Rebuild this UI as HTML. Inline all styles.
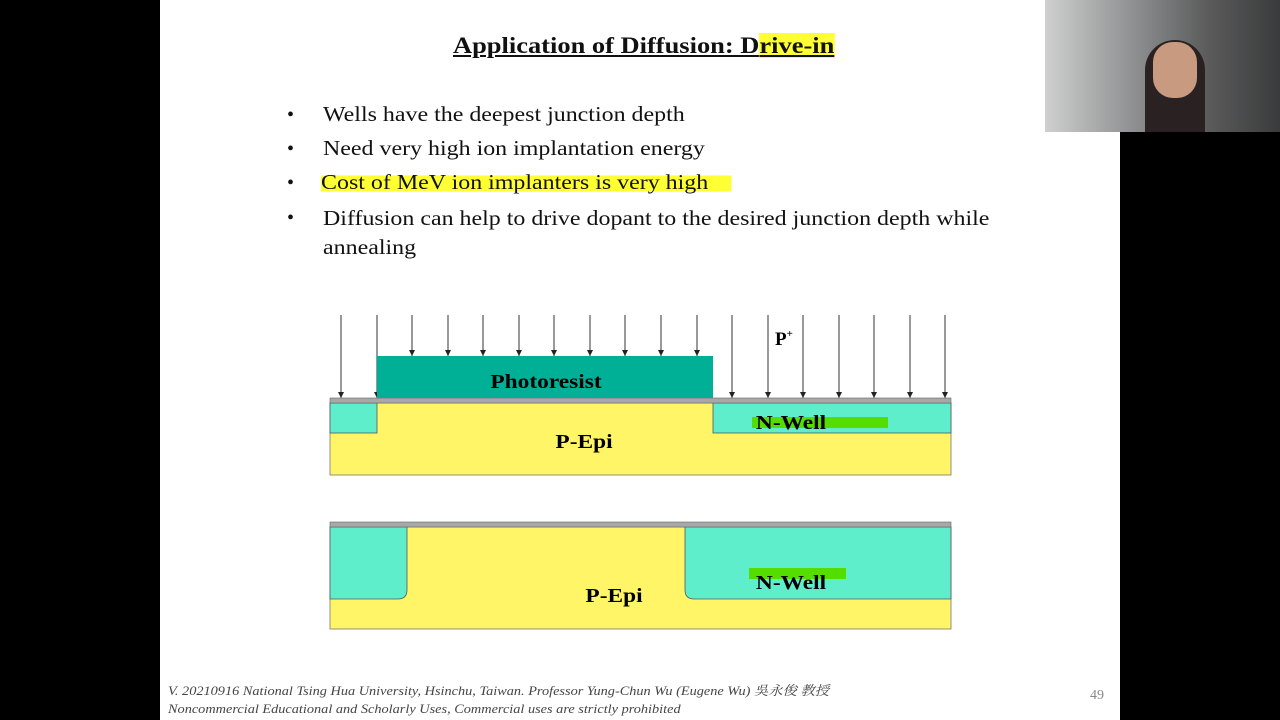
<!DOCTYPE html>
<html><head><meta charset="utf-8"><style>
body{margin:0;width:1280px;height:720px;background:#000;overflow:hidden;position:relative;font-family:"Liberation Serif","Noto Serif CJK SC",serif}
#slide{position:absolute;left:160px;top:0;width:960px;height:720px;background:#fff}
.t{position:absolute;white-space:nowrap;color:#111}
.b{font-size:21px;transform:scaleX(1.14);transform-origin:left}
</style></head><body>
<div id="slide"></div>
<div style="position:absolute;left:1045px;top:0;width:235px;height:132px;background:linear-gradient(90deg,#cfd0cf,#8a8c8d 40%,#5a5a5a 70%,#3a3b3c)">
 <div style="position:absolute;left:100px;top:40px;width:60px;height:92px;background:#2a2222;border-radius:30px 30px 0 0"></div>
 <div style="position:absolute;left:108px;top:42px;width:44px;height:56px;background:#c89a80;border-radius:20px"></div>
</div>
<div class="t" style="left:453px;top:33px;font-size:23px;font-weight:bold;text-decoration:underline;transform:scaleX(1.15);transform-origin:left">Application of Diffusion: D<span style="background:#ffff33">rive-in</span></div>
<div>
<div class="t" style="left:287px;top:104px;font-size:20px">•</div><div class="t b" style="left:323px;top:102px">Wells have the deepest junction depth</div>
<div class="t" style="left:287px;top:138px;font-size:20px">•</div><div class="t b" style="left:323px;top:136px">Need very high ion implantation energy</div>
<div class="t" style="left:287px;top:172px;font-size:20px">•</div><div class="t b" style="left:321px;top:170px;background:linear-gradient(#fff 22%,#ffff33 22%,#ffff33 85%,#fff 85%);padding-right:20px">Cost of MeV ion implanters is very high</div>
<div class="t" style="left:287px;top:207px;font-size:20px">•</div><div class="t b" style="left:323px;top:204px;line-height:29px">Diffusion can help to drive dopant to the desired junction depth while<br>annealing</div>
</div>
<svg width="1280" height="720" style="position:absolute;left:0;top:0">
<defs><marker id="ah" markerWidth="6" markerHeight="6" refX="6" refY="3" orient="auto" markerUnits="userSpaceOnUse"><path d="M0,0 L6,3 L0,6z" fill="#222"/></marker></defs>
<g id="arrows"></g>
<rect x="330" y="403" width="621" height="72" fill="#fff566" stroke="#777" stroke-width="0.8"/>
<rect x="330" y="403" width="47" height="30" fill="#5eeecc" stroke="#555" stroke-width="0.8"/>
<rect x="713" y="403" width="238" height="30" fill="#5eeecc" stroke="#555" stroke-width="0.8"/>
<rect x="330" y="398" width="621" height="5" fill="#a8a8a8" stroke="#666" stroke-width="0.6"/>
<rect x="377" y="356" width="336" height="42" fill="#00b096"/>
<rect x="752" y="417" width="136" height="11" fill="#55dd00"/>
<rect x="330" y="527" width="621" height="102" fill="#fff566" stroke="#777" stroke-width="0.8"/>
<path d="M330,527 H407 V590 Q407,599 398,599 H330 Z" fill="#5eeecc" stroke="#555" stroke-width="0.8"/>
<path d="M951,527 H685 V590 Q685,599 694,599 H951 Z" fill="#5eeecc" stroke="#555" stroke-width="0.8"/>
<rect x="330" y="522" width="621" height="5" fill="#a8a8a8" stroke="#666" stroke-width="0.6"/>
<rect x="749" y="568" width="97" height="11" fill="#55dd00"/>
<g font-family="Liberation Serif" font-weight="bold" font-size="20" text-anchor="middle">
<text transform="translate(546,388) scale(1.17,1)">Photoresist</text>
<text transform="translate(584,448) scale(1.17,1)">P-Epi</text>
<text transform="translate(791,429) scale(1.17,1)">N-Well</text>
<text transform="translate(614,602) scale(1.17,1)">P-Epi</text>
<text transform="translate(791,589) scale(1.17,1)">N-Well</text>
</g>
<text x="775" y="345" font-size="19" font-weight="bold" font-family="Liberation Serif">P<tspan font-size="11" dy="-8">+</tspan></text>
</svg>
<div class="t" style="left:168px;top:682px;font-size:13px;font-style:italic;color:#444;line-height:18px;transform:scaleX(1.1);transform-origin:left">V. 20210916 National Tsing Hua University, Hsinchu, Taiwan. Professor Yung-Chun Wu (Eugene Wu) 吳永俊 教授<br>Noncommercial Educational and Scholarly Uses, Commercial uses are strictly prohibited</div>
<div class="t" style="left:1090px;top:688px;font-size:14px;color:#888">49</div>
<script>
const arrowX=[341,377,412,448,483,519,554,590,625,661,697,732,768,803,839,874,910,945];
const g=document.getElementById('arrows');
arrowX.forEach(x=>{
 const end=(x>377&&x<713)?356:398;
 const l=document.createElementNS('http://www.w3.org/2000/svg','line');
 
 
 l.setAttribute('x1',x);l.setAttribute('x2',x);l.setAttribute('y1',315);l.setAttribute('y2',end);
 l.setAttribute('stroke','#333');l.setAttribute('stroke-width','1');l.setAttribute('marker-end','url(#ah)');
 g.appendChild(l);
});
</script>
</body></html>
